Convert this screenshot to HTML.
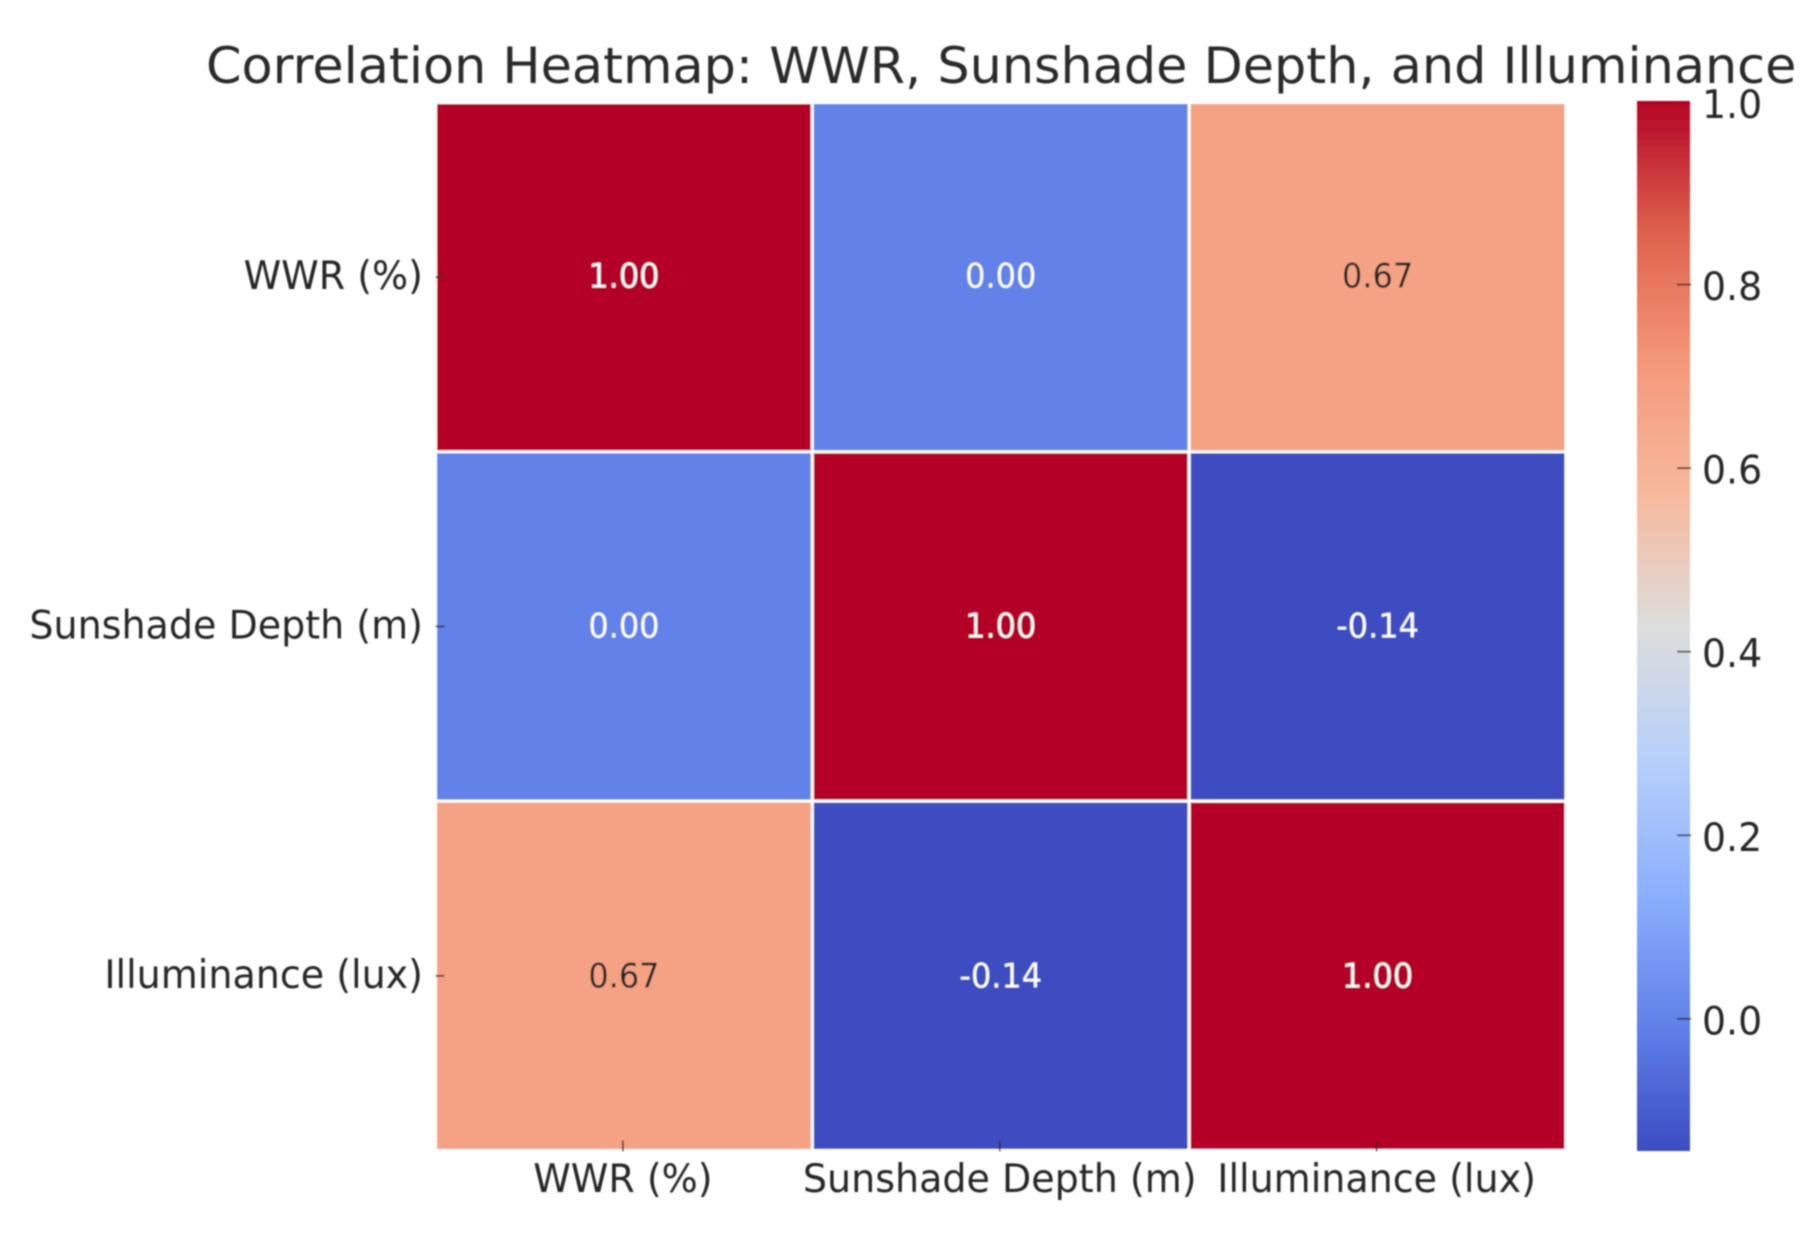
<!DOCTYPE html>
<html lang="en">
<head>
<meta charset="utf-8">
<title>Correlation Heatmap</title>
<style>
html,body{margin:0;padding:0;background:#fff;width:1814px;height:1247px;overflow:hidden}
svg{display:block}
text{font-family:"DejaVu Sans","Liberation Sans",sans-serif}
</style>
</head>
<body>
<svg id="chart" xmlns="http://www.w3.org/2000/svg" width="1814" height="1247" viewBox="0 0 1814 1247">
  <defs>
    <linearGradient id="cbar-gradient" x1="0" y1="1" x2="0" y2="0"></linearGradient>
    <filter id="soft" x="-5%" y="-5%" width="110%" height="110%"><feGaussianBlur stdDeviation="0.8"/></filter>
  </defs>
  <rect width="1814" height="1247" fill="#ffffff"/>
  <g id="root" filter="url(#soft)">
    <text transform="translate(206,83) scale(1.017,1)" font-size="50" fill="#2b2b2b">Correlation Heatmap: WWR, Sunshade Depth, and Illuminance</text>
    <g id="cells"></g>
    <g id="annots"></g>
    <g id="yaxis"></g>
    <g id="xaxis"></g>
    <g id="colorbar"></g>
  </g>
</svg>
<script>
const categories = ["WWR (%)", "Sunshade Depth (m)", "Illuminance (lux)"];
const matrix = [
  [1.00, 0.00, 0.67],
  [0.00, 1.00, -0.14],
  [0.67, -0.14, 1.00]
];
const annotations = ["1.00", "0.00", "0.67", "0.00", "1.00", "-0.14", "0.67", "-0.14", "1.00"];
const colorbarTicks = [0.0, 0.2, 0.4, 0.6, 0.8, 1.0];
const colorbarTickLabels = ["0.0", "0.2", "0.4", "0.6", "0.8", "1.0"];
const colorMin = -0.144;
const colorMax = 1.0;

const SVG_NS = "http://www.w3.org/2000/svg";
const COOLWARM = [[59,76,192],[98,130,234],[141,176,254],[184,208,249],[221,221,221],[247,184,156],[244,152,122],[222,97,77],[180,4,38]];

function colorAt(t) {
  const c = Math.max(0, Math.min(1, t)) * (COOLWARM.length - 1);
  const i = Math.min(COOLWARM.length - 2, Math.floor(c));
  const f = c - i;
  const rgb = COOLWARM[i].map((v, k) => Math.round(v + (COOLWARM[i + 1][k] - v) * f));
  return "rgb(" + rgb.join(",") + ")";
}
function colorScale(v) { return colorAt((v - colorMin) / (colorMax - colorMin)); }

const plotLeft = 435.5, plotTop = 102.5, plotRight = 1566, plotBottom = 1150.5;
const cellW = (plotRight - plotLeft) / categories.length;
const cellH = (plotBottom - plotTop) / categories.length;
function xBand(i) { return plotLeft + i * cellW; }
function yBand(i) { return plotTop + i * cellH; }

const cbLeft = 1637, cbRight = 1690, cbTop = 101, cbBottom = 1151;
function cbY(v) { return cbBottom - (v - colorMin) / (colorMax - colorMin) * (cbBottom - cbTop); }

function make(tag, attrs, parent, txt) {
  const e = document.createElementNS(SVG_NS, tag);
  for (const k in attrs) e.setAttribute(k, attrs[k]);
  if (txt !== undefined) e.textContent = txt;
  parent.appendChild(e);
  return e;
}

const cellsG = document.getElementById("cells");
const annotsG = document.getElementById("annots");
matrix.forEach((row, r) => row.forEach((v, c) => {
  const rect = make("rect", {x: xBand(c), y: yBand(r), width: cellW, height: cellH, fill: colorScale(v), stroke: "#ffffff", "stroke-width": 3}, cellsG);
  
  
  const norm = (v - colorMin) / (colorMax - colorMin);
  const label = make("text", {
    transform: "translate(" + (xBand(c) + cellW / 2) + "," + (yBand(r) + cellH / 2 + 11 + (r - 1) * 0.8) + ") scale(0.94,1)",
    "text-anchor": "middle", "font-size": 34,
    fill: (norm > 0.25 && norm < 0.8) ? "#262626" : "#ffffff"
  }, annotsG, annotations[r * categories.length + c]);
  
  
}));

const yG = document.getElementById("yaxis");
const xG = document.getElementById("xaxis");
categories.forEach((name, i) => {
  const cy = yBand(i) + cellH / 2;
  const yTick = make("line", {x1: plotLeft, x2: plotLeft + 9, y1: cy, y2: cy, stroke: "#3a2020", "stroke-width": 1.6}, yG);
  
  
  const yLabel = make("text", {
    transform: "translate(423," + (cy + 12) + ") scale(0.975,1)",
    "text-anchor": "end", "font-size": 39, fill: "#262626"
  }, yG, name);
  
  

  const cx = xBand(i) + cellW / 2 - 1;
  const xTick = make("line", {x1: cx, x2: cx, y1: plotBottom - 10, y2: plotBottom + 1, stroke: "#3a2020", "stroke-width": 1.6}, xG);
  
  
  const xLabel = make("text", {
    transform: "translate(" + cx + ",1192) scale(0.975,1)",
    "text-anchor": "middle", "font-size": 39, fill: "#262626"
  }, xG, name);
  
  
});

const gradient = document.getElementById("cbar-gradient");
for (let s = 0; s <= 32; s++) {
  make("stop", {offset: s / 32, "stop-color": colorAt(s / 32)}, gradient);
}
const cbG = document.getElementById("colorbar");
const bar = make("rect", {x: cbLeft, y: cbTop, width: cbRight - cbLeft, height: cbBottom - cbTop, fill: "url(#cbar-gradient)"}, cbG);


colorbarTicks.forEach((v, i) => {
  const y = cbY(v);
  if (v < colorMax) {
    const tick = make("line", {x1: cbRight - 13, x2: cbRight + 1, y1: y, y2: y, stroke: "#3a2020", "stroke-width": 1.8, opacity: 0.8}, cbG);
    
    
  }
  const tl = make("text", {
    transform: "translate(1702," + (y + (v < colorMax ? 15.5 : 17)) + ") scale(0.97,1)",
    "font-size": 39, fill: "#262626"
  }, cbG, colorbarTickLabels[i]);
  
  
});
</script>
</body>
</html>
